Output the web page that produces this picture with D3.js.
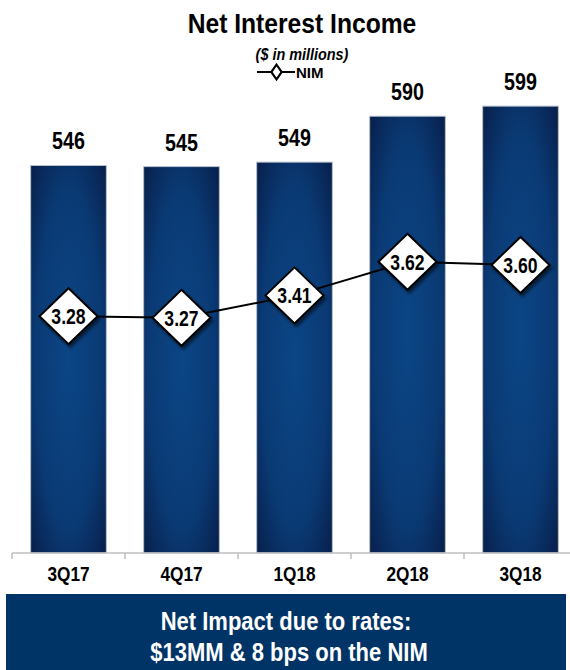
<!DOCTYPE html>
<html>
<head>
<meta charset="utf-8">
<script src="https://cdn.jsdelivr.net/npm/d3@7"></script>
<style>
  html, body { margin: 0; padding: 0; background: #fff; }
  svg { display: block; font-family: "Liberation Sans", Arial, sans-serif; }
</style>
</head>
<body>
<svg id="chart" width="570" height="670"></svg>
<script>
// Quarterly net interest income ($MM) and net interest margin (%)
const quarters = ["3Q17", "4Q17", "1Q18", "2Q18", "3Q18"];
const netInterestIncome = [546, 545, 549, 590, 599];
const nim = [3.28, 3.27, 3.41, 3.62, 3.60];
const nimLabels = ["3.28", "3.27", "3.41", "3.62", "3.60"];

const svg = d3.select("#chart");
const defs = svg.append("defs");

// Bar fill: blue core fading to deep navy at the edges
const grad = defs.append("radialGradient")
  .attr("id", "barFill")
  .attr("cx", "50%").attr("cy", "50%").attr("r", "72%");
grad.append("stop").attr("offset", "0%").attr("stop-color", "#0b4686");
grad.append("stop").attr("offset", "60%").attr("stop-color", "#0a3a74");
grad.append("stop").attr("offset", "100%").attr("stop-color", "#081d48");

const shadow = defs.append("filter").attr("id", "dropShadow")
  .attr("x", "-30%").attr("y", "-30%").attr("width", "160%").attr("height", "160%");
shadow.append("feDropShadow")
  .attr("dx", 2).attr("dy", 3).attr("stdDeviation", 1.6)
  .attr("flood-color", "#000").attr("flood-opacity", 0.55);

// Squeeze text horizontally to mimic a narrow bold face
function condense(sel, factor) {
  sel.each(function () {
    const len = this.getComputedTextLength();
    d3.select(this).attr("textLength", len * factor).attr("lengthAdjust", "spacingAndGlyphs");
  });
}

const baseY = 553;
const x = d3.scaleBand()
  .domain(quarters)
  .range([12, 577])
  .paddingInner(0.33)
  .paddingOuter(0.165);
const y = d3.scaleLinear().domain([200, 600]).range([baseY, 105]);
const y2 = d3.scaleLinear().domain([1.8, 4.6]).range([baseY, 105]);

// Title block
svg.append("text")
  .attr("x", 302).attr("y", 33)
  .attr("text-anchor", "middle")
  .attr("font-size", 28).attr("font-weight", "bold")
  .text("Net Interest Income")
  .call(condense, 0.88);

svg.append("text")
  .attr("x", 302).attr("y", 60)
  .attr("text-anchor", "middle")
  .attr("font-size", 16).attr("font-weight", "bold").attr("font-style", "italic")
  .text("($ in millions)")
  .call(condense, 0.9);

// Legend
const legend = svg.append("g");
legend.append("line")
  .attr("x1", 257).attr("x2", 295).attr("y1", 72).attr("y2", 72)
  .attr("stroke", "#000").attr("stroke-width", 2);
legend.append("path")
  .attr("d", d3.symbol(d3.symbolDiamond, 70)())
  .attr("transform", "translate(276.5,72) scale(1.15,0.95)")
  .attr("fill", "#fff").attr("stroke", "#000").attr("stroke-width", 2);
legend.append("text")
  .attr("x", 296).attr("y", 77.5)
  .attr("font-size", 15).attr("font-weight", "bold")
  .text("NIM");

// Bars
svg.append("g").selectAll("rect")
  .data(quarters)
  .join("rect")
  .attr("x", d => x(d))
  .attr("y", (d, i) => y(netInterestIncome[i]))
  .attr("width", x.bandwidth())
  .attr("height", (d, i) => baseY - y(netInterestIncome[i]))
  .attr("fill", "url(#barFill)")
  .attr("stroke", "#b9c3cf").attr("stroke-width", 1);

// Bar value labels
svg.append("g").selectAll("text")
  .data(quarters)
  .join("text")
  .attr("x", d => x(d) + x.bandwidth() / 2)
  .attr("y", (d, i) => y(netInterestIncome[i]) - 16)
  .attr("text-anchor", "middle")
  .attr("font-size", 24).attr("font-weight", "bold")
  .text((d, i) => netInterestIncome[i])
  .call(condense, 0.82);

// Category axis
const axis = svg.append("g").attr("transform", `translate(0,${baseY})`);
axis.append("line")
  .attr("x1", 12).attr("x2", 577).attr("y1", 0).attr("y2", 0)
  .attr("stroke", "#bfbfbf").attr("stroke-width", 1.5);
axis.selectAll("line.tick")
  .data(d3.range(quarters.length + 1))
  .join("line")
  .attr("class", "tick")
  .attr("x1", i => 12 + i * x.step()).attr("x2", i => 12 + i * x.step())
  .attr("y1", 0).attr("y2", 6)
  .attr("stroke", "#bfbfbf").attr("stroke-width", 1.5);
axis.selectAll("text")
  .data(quarters)
  .join("text")
  .attr("x", d => x(d) + x.bandwidth() / 2)
  .attr("y", 28)
  .attr("text-anchor", "middle")
  .attr("font-size", 21).attr("font-weight", "bold")
  .text(d => d)
  .call(condense, 0.82);

// NIM line with diamond markers
const cx = d => x(d) + x.bandwidth() / 2;
svg.append("path")
  .datum(quarters)
  .attr("d", d3.line().x(cx).y((d, i) => y2(nim[i])))
  .attr("fill", "none").attr("stroke", "#000").attr("stroke-width", 2);

const markers = svg.append("g").selectAll("g")
  .data(quarters)
  .join("g")
  .attr("transform", (d, i) => `translate(${cx(d)},${y2(nim[i])})`);
markers.append("path")
  .attr("d", "M0,-28L29,0L0,28L-29,0Z")
  .attr("fill", "#fff").attr("stroke", "#000").attr("stroke-width", 2)
  .attr("filter", "url(#dropShadow)");
markers.append("text")
  .attr("y", 8)
  .attr("text-anchor", "middle")
  .attr("font-size", 22).attr("font-weight", "bold")
  .text((d, i) => nimLabels[i])
  .call(condense, 0.8);

// Footer banner
svg.append("rect")
  .attr("x", 6).attr("y", 594).attr("width", 560).attr("height", 76)
  .attr("fill", "#003366");
svg.append("text")
  .attr("x", 286).attr("y", 630)
  .attr("text-anchor", "middle").attr("fill", "#fff")
  .attr("font-size", 25).attr("font-weight", "bold")
  .text("Net Impact due to rates:")
  .call(condense, 0.88);
svg.append("text")
  .attr("x", 289).attr("y", 661)
  .attr("text-anchor", "middle").attr("fill", "#fff")
  .attr("font-size", 25).attr("font-weight", "bold")
  .text("$13MM & 8 bps on the NIM")
  .call(condense, 0.88);
</script>
</body>
</html>
